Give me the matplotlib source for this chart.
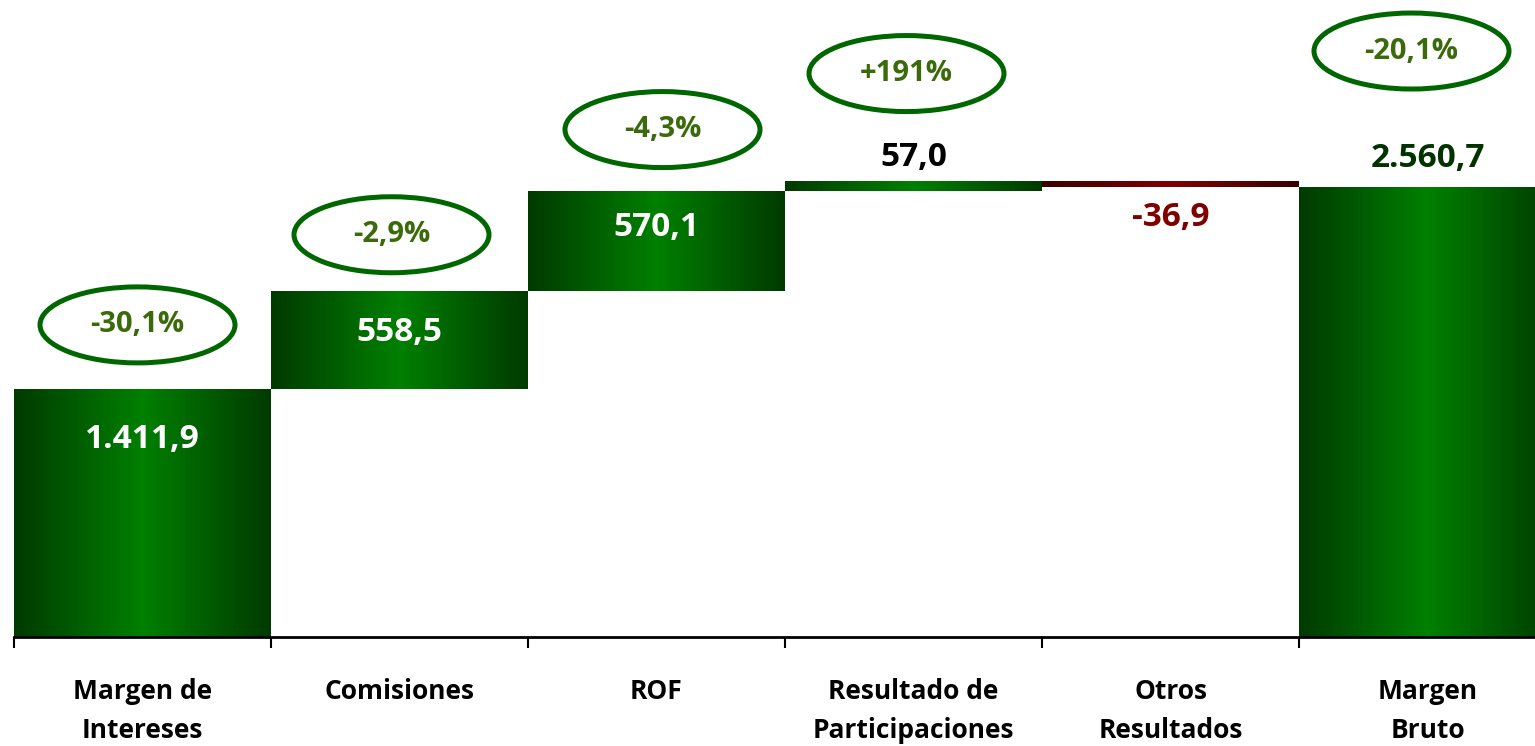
import numpy as np
import matplotlib.pyplot as plt
from matplotlib.colors import LinearSegmentedColormap
from matplotlib.patches import Ellipse

plt.rcParams['font.family'] = ['Open Sans', 'DejaVu Sans']

categories = ["Margen de\nIntereses", "Comisiones", "ROF",
              "Resultado de\nParticipaciones", "Otros\nResultados", "Margen\nBruto"]
values = [1411.9, 558.5, 570.1, 57.0, -36.9, 2560.7]
value_labels = ["1.411,9", "558,5", "570,1", "57,0", "-36,9", "2.560,7"]
pct_labels = ["-30,1%", "-2,9%", "-4,3%", "+191%", None, "-20,1%"]

label_off = [-51, -42, -37, 23, -30, 29]          # value label centre vs bar end
label_col = ["white", "white", "white", "black", "#800000", "#003300"]
ell_off = [64, 56, 61, 107, None, 136]            # ellipse centre above bar top
ell_dx = [-5, -8, 6, -7, None, -16]

W, H, DPI = 1535, 746, 100
fig = plt.figure(figsize=(W / DPI, H / DPI), dpi=DPI)
cat_px = 257
ax = fig.add_axes([14 / W, (H - 637) / H, 6 * cat_px / W, 637 / H])
ymax = 3625
ax.set_xlim(-0.5, 5.5)
ax.set_ylim(0, ymax)
px_per_unit = 637 / ymax

# waterfall bottoms
bottoms = []
cum = 0
for i, v in enumerate(values):
    if i == len(values) - 1:
        bottoms.append(0)
    else:
        bottoms.append(cum)
        cum += v

x = np.arange(len(values))
bars = ax.bar(x, values, bottom=bottoms, width=1.0, color='none', edgecolor='none')

green = LinearSegmentedColormap.from_list('g', ['#003a00', '#008000', '#003a00'])
red = LinearSegmentedColormap.from_list('r', ['#3a0000', '#800000', '#3a0000'])
grad = np.linspace(0, 1, 256).reshape(1, -1)
for b, v in zip(bars, values):
    x0, y0 = b.get_x(), b.get_y()
    x1, y1 = x0 + b.get_width(), y0 + b.get_height()
    im = ax.imshow(grad, cmap=green if v >= 0 else red, aspect='auto',
                   extent=[x0, x1, min(y0, y1), max(y0, y1)], zorder=2,
                   interpolation='bicubic')
    im.set_clip_path(b)

# value labels
for i, (b, v) in enumerate(zip(bars, values)):
    end = bottoms[i] + v
    ax.annotate(value_labels[i], (x[i], end), xytext=(0, label_off[i] * 72 / DPI),
                textcoords='offset points', ha='center', va='center',
                fontsize=24, fontweight='bold', color=label_col[i], zorder=5)

# percent ellipses
ew = 195 / cat_px
eh = 76 / px_per_unit
for i, p in enumerate(pct_labels):
    if p is None:
        continue
    top = bottoms[i] + values[i]
    cx = x[i] + ell_dx[i] / cat_px
    cy = top + ell_off[i] / px_per_unit
    ax.add_patch(Ellipse((cx, cy), ew, eh, facecolor='none', edgecolor='#006600',
                         linewidth=3.6, zorder=4, clip_on=False))
    ax.text(cx, cy, p, ha='center', va='center', fontsize=21, fontweight='bold',
            color='#3a6a0a', zorder=5)

# axis
for s in ['top', 'right', 'left']:
    ax.spines[s].set_visible(False)
ax.spines['bottom'].set_linewidth(2)
ax.set_yticks([])
ax.set_xticks(np.arange(-0.5, 6, 1.0))
ax.set_xticklabels([])
ax.tick_params(axis='x', length=8, width=1.5, direction='out')
for i, c in enumerate(categories):
    ax.text(x[i], -41 / px_per_unit, c, ha='center', va='top',
            fontsize=19, fontweight='bold', color='black', linespacing=1.55)

fig.savefig('out.png', dpi=DPI)
